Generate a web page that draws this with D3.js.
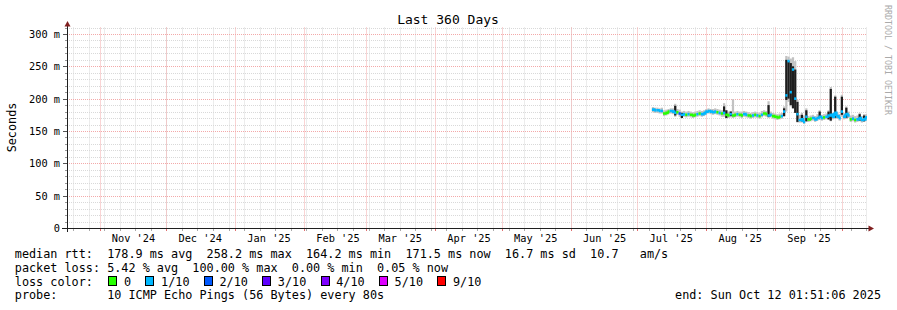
<!DOCTYPE html>
<html>
<head>
<meta charset="utf-8">
<script src="https://cdn.jsdelivr.net/npm/d3@7"></script>
<style>
body { margin: 0; background: #fff; }
svg { display: block; }
text { font-family: "DejaVu Sans Mono", monospace; white-space: pre; fill: #000; }
</style>
</head>
<body>
<svg></svg>
<script>
const width = 897, height = 310;
const svg = d3.select("svg").attr("width", width).attr("height", height);

// time range of the graph and first daily sample
const startTime = new Date(2024, 9, 17, 1, 51, 6);
const endTime = new Date(2025, 9, 12, 1, 51, 6);
const firstDay = new Date(2025, 6, 7, 12, 0, 0);

// daily median rtt (ms)
const median = [183,182,182,181,181,177,178,180,181,180,
  178,179,177,175,176,175,176,175,174,175,
  176,177,176,177,180,181,180,179,180,179,
  178,177,178,175,174,176,174,175,176,175,
  174,176,175,174,173,174,175,174,173,175,
  177,176,174,175,173,172,171,172,173,180,
  205,258,210,245,200,176,167,168,164,172,
  168,169,170,168,170,172,170,171,172,174,
  175,172,178,173,170,180,172,176,174,168,
  169,167,168,170,167,168,171];

// loss bucket index per day (0 = no loss, 1 = 1/10, 2 = 2/10 ...)
const loss = [1,1,1,1,1,0,0,0,1,1,
  1,0,2,1,1,0,1,0,0,0,
  1,0,1,1,1,1,1,1,1,0,
  1,0,1,0,0,1,0,0,1,0,
  0,1,1,0,0,1,0,1,0,1,
  0,0,1,1,0,0,0,0,1,1,
  1,1,1,1,1,1,1,1,1,1,
  0,0,1,1,1,1,1,0,1,1,
  1,1,1,1,1,1,1,1,1,0,
  1,0,1,1,1,1,1];

// smoke: full ping spread (ms)
const smokeLo = [179,178,178,177,177,173,174,176,177,176,
  172,175,172,170,172,171,172,171,170,171,
  172,173,172,173,176,177,176,175,176,175,
  174,172,172,170,170,171,170,171,172,171,
  170,172,171,170,169,170,171,170,169,171,
  173,172,170,171,169,168,167,168,169,172,
  180,195,188,185,178,163,163,163,161,164,
  164,165,166,164,166,167,166,167,168,167,
  165,168,169,169,166,172,168,169,170,164,
  165,163,164,165,163,164,166];
const smokeHi = [187,186,186,185,186,182,183,184,185,185,
  192,184,183,180,181,180,181,180,179,180,
  181,182,181,182,184,185,184,184,185,184,
  183,182,193,182,180,181,199,180,181,180,
  180,181,180,179,178,179,180,179,178,181,
  182,181,196,180,178,177,176,177,178,188,
  266,265,262,264,258,198,175,178,174,185,
  173,174,175,173,176,182,175,176,177,182,
  218,178,205,179,176,206,178,188,180,174,
  175,173,174,178,173,176,176];

// dense smoke core (ms), null where none
const coreLo = [null,null,null,null,null,null,null,null,null,null,
  174,null,null,170,null,null,null,null,null,null,
  null,null,null,null,null,null,null,null,null,null,
  null,null,176,170,null,173,null,null,null,null,
  null,null,null,null,null,null,null,null,null,null,
  null,null,172,null,null,null,null,null,null,173,
  198,200,190,185,178,164,null,165,null,165,
  null,null,null,null,null,170,null,null,null,168,
  166,null,170,null,null,175,null,170,null,null,
  null,null,null,166,null,165,null];
const coreHi = [null,null,null,null,null,null,null,null,null,null,
  189,null,null,178,null,null,null,null,null,null,
  null,null,null,null,null,null,null,null,null,null,
  null,null,188,182,null,180,null,null,null,null,
  null,null,null,null,null,null,null,null,null,null,
  null,null,190,null,null,null,null,null,null,185,
  260,258,255,250,245,195,null,175,null,182,
  null,null,null,null,null,180,null,null,null,180,
  215,null,203,null,null,203,null,186,null,null,
  null,null,null,176,null,174,null];

const lossColors = ["#26ff00","#00b8ff","#0059ff","#5e00ff","#7e00ff","#dd00ff","#ff0000"];
const lossLabels = ["0","1/10","2/10","3/10","4/10","5/10","9/10"];
const yTicks = [0,50,100,150,200,250,300];

const legendRows = [
  "median rtt:  178.9 ms avg  258.2 ms max  164.2 ms min  171.5 ms now  16.7 ms sd  10.7   am/s",
  "packet loss: 5.42 % avg  100.00 % max  0.00 % min  0.05 % now",
  "loss color:",
  "probe:       10 ICMP Echo Pings (56 Bytes) every 80s"
];
const endLabel = "end: Sun Oct 12 01:51:06 2025";

const x = d3.scaleTime().domain([startTime, endTime]).range([66.5, 866.5]);
const y = d3.scaleLinear().domain([0, 310]).range([228, 27.5]);
const px = v => Math.round(v) + 0.5;

// grid
const grid = svg.append("g");
const weeks = d3.timeSunday.range(startTime, endTime);
const months = d3.timeMonth.range(startTime, endTime);
const minorY = d3.range(10, 311, 10).filter(v => v % 50 !== 0);
const majorY = d3.range(50, 301, 50);
const minorGrid = "#d9d9d9", majorGrid = "#f3a9a9";

grid.selectAll(".hmin").data(minorY).join("line")
  .attr("x1", 67).attr("x2", 867)
  .attr("y1", d => px(y(d))).attr("y2", d => px(y(d)))
  .attr("stroke", minorGrid).attr("stroke-dasharray", "1,1");
grid.selectAll(".vmin").data(weeks).join("line")
  .attr("x1", d => px(x(d))).attr("x2", d => px(x(d)))
  .attr("y1", 27.5).attr("y2", 228)
  .attr("stroke", minorGrid).attr("stroke-dasharray", "1,1");
grid.selectAll(".hmaj").data(majorY).join("line")
  .attr("x1", 67).attr("x2", 867)
  .attr("y1", d => px(y(d))).attr("y2", d => px(y(d)))
  .attr("stroke", majorGrid).attr("stroke-dasharray", "1,1");
grid.selectAll(".vmaj").data(months).join("line")
  .attr("x1", d => px(x(d))).attr("x2", d => px(x(d)))
  .attr("y1", 27.5).attr("y2", 228)
  .attr("stroke", majorGrid).attr("stroke-dasharray", "1,1");

// data
svg.append("clipPath").attr("id", "plot")
  .append("rect").attr("x", 67).attr("y", 27).attr("width", 800).attr("height", 201);
const plot = svg.append("g").attr("clip-path", "url(#plot)");
const days = median.map((d, i) => d3.timeDay.offset(firstDay, i));
const x0 = i => x(days[i]);
const x1 = i => x(d3.timeDay.offset(days[i], 1));

plot.selectAll(".smoke").data(median).join("rect")
  .attr("x", (d, i) => x0(i)).attr("width", (d, i) => x1(i) - x0(i))
  .attr("y", (d, i) => y(smokeHi[i]))
  .attr("height", (d, i) => y(smokeLo[i]) - y(smokeHi[i]))
  .attr("fill", "#c2c2c2");

const coreIdx = d3.range(median.length).filter(i => coreLo[i] != null);
plot.selectAll(".core").data(coreIdx).join("rect")
  .attr("x", i => x0(i)).attr("width", i => x1(i) - x0(i))
  .attr("y", i => y(coreHi[i]))
  .attr("height", i => y(coreLo[i]) - y(coreHi[i]))
  .attr("fill", "#1e1e1e");

// median: per-day segments, joined only when the next day is close and same colour
plot.selectAll(".med").data(median).join("path")
  .attr("d", (d, i) => {
    let p = `M${x0(i)},${y(d)}H${x1(i)}`;
    const n = median[i + 1];
    if (n != null && loss[i + 1] === loss[i] && Math.abs(n - d) <= 6) p += `V${y(n)}`;
    return p;
  })
  .attr("fill", "none")
  .attr("stroke", (d, i) => lossColors[loss[i]])
  .attr("stroke-width", 2.6);

// axes
const yAxis = svg.append("g").attr("transform", "translate(67,0)")
  .call(d3.axisLeft(y).tickValues(yTicks).tickSize(0).tickPadding(7)
    .tickFormat(d => d === 0 ? "0" : d + " m"));
yAxis.select(".domain").remove();
yAxis.selectAll("text").attr("font-family", "DejaVu Sans Mono").attr("font-size", 10.3).attr("dy", "0.34em");

svg.append("g").selectAll("line").data(d3.range(0, 311, 10)).join("line")
  .attr("x1", d => d % 50 === 0 ? 63 : 65).attr("x2", 67)
  .attr("y1", d => px(y(d))).attr("y2", d => px(y(d)))
  .attr("stroke", d => d % 50 === 0 ? "#555" : "#999");

const labelDates = months.map(m => d3.timeDay.offset(m, 15)).filter(d => d < endTime);
const xAxis = svg.append("g").attr("transform", "translate(0,228)")
  .call(d3.axisBottom(x).tickValues(labelDates).tickSize(0).tickPadding(6)
    .tickFormat(d3.timeFormat("%b '%y")));
xAxis.select(".domain").remove();
xAxis.selectAll("text").attr("font-family", "DejaVu Sans Mono").attr("font-size", 10.3).attr("y", 13.5).attr("dy", null);

svg.append("g").selectAll("line").data(weeks).join("line")
  .attr("x1", d => px(x(d))).attr("x2", d => px(x(d)))
  .attr("y1", 228).attr("y2", 231).attr("stroke", "#aaa");
svg.append("g").selectAll("line").data(months).join("line")
  .attr("x1", d => px(x(d))).attr("x2", d => px(x(d)))
  .attr("y1", 228).attr("y2", 231).attr("stroke", "#e07070");

svg.append("line").attr("x1", 62).attr("x2", 870).attr("y1", 228.5).attr("y2", 228.5)
  .attr("stroke", "#1f1f1f");
svg.append("line").attr("x1", 67.5).attr("x2", 67.5).attr("y1", 232).attr("y2", 24)
  .attr("stroke", "#1f1f1f");
svg.append("path").attr("d", "M67.5,21L64.5,26.5L70.5,26.5Z").attr("fill", "#801f1f");
svg.append("path").attr("d", "M874,228.5L868.5,225.5L868.5,231.5Z").attr("fill", "#801f1f");

// titles
svg.append("text").attr("x", 448).attr("y", 24).attr("text-anchor", "middle")
  .attr("font-size", 13).text("Last 360 Days");
svg.append("text").attr("transform", "translate(15.5,127.5) rotate(-90)")
  .attr("text-anchor", "middle").attr("font-size", 11.8).text("Seconds");
svg.append("text").attr("transform", "translate(884.5,5) rotate(90)")
  .attr("font-size", 8.3).style("fill", "#aaa").text("RRDTOOL / TOBI OETIKER");

// legend
const legendX = 14.8, charW = 7.12;
const rowY = [258, 271.8, 285.5, 299.3];
svg.append("g").selectAll("text").data(legendRows).join("text")
  .attr("x", legendX).attr("y", (d, i) => rowY[i]).attr("font-size", 11.8).text(d => d);

let sx = legendX + 13 * charW + 1;
const swatches = lossLabels.map((label, i) => {
  const item = { label, color: lossColors[i], x: sx };
  sx += 15.7 + label.length * charW + 14.2;
  return item;
});
const sw = svg.append("g").selectAll("g").data(swatches).join("g");
sw.append("rect").attr("x", d => Math.round(d.x) + 0.5).attr("y", 276.5)
  .attr("width", 8).attr("height", 9)
  .attr("fill", d => d.color).attr("stroke", "#000");
sw.append("text").attr("x", d => d.x + 15.7).attr("y", rowY[2])
  .attr("font-size", 11.8).text(d => d.label);

svg.append("text").attr("x", 881).attr("y", rowY[3]).attr("text-anchor", "end")
  .attr("font-size", 11.8).text(endLabel);
</script>
</body>
</html>
